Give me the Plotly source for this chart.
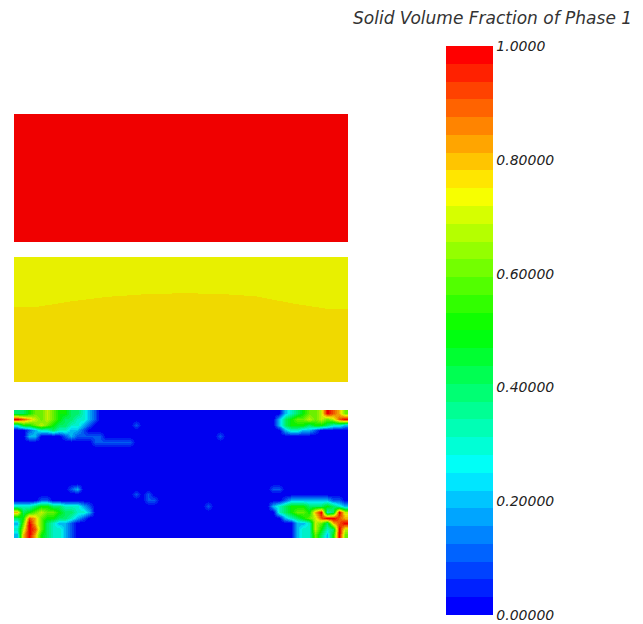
import plotly.graph_objects as go

W, H = 643, 624

# Legend
CBAR_TITLE = "Solid Volume Fraction of Phase 1"
TICK_VALUES = [0.0, 0.2, 0.4, 0.6, 0.8, 1.0]
TICK_LABELS = ["0.00000", "0.20000", "0.40000", "0.60000", "0.80000", "1.0000"]
N_BANDS = 32

# Top slab: essentially fully packed
TOP_FIELD = [
    [0.99, 0.99, 0.99, 0.99],
    [0.99, 0.99, 0.99, 0.99],
    [0.99, 0.99, 0.99, 0.99],
]

# Middle slab: 6 rows (top to bottom) x 9 columns (left to right)
MID_FIELD = [
    [0.7381, 0.7399, 0.7413, 0.7420, 0.7423, 0.7422, 0.7414, 0.7393, 0.7375],
    [0.7444, 0.7462, 0.7475, 0.7483, 0.7486, 0.7484, 0.7477, 0.7456, 0.7438],
    [0.7506, 0.7524, 0.7538, 0.7545, 0.7548, 0.7547, 0.7539, 0.7518, 0.7501],
    [0.7569, 0.7587, 0.7600, 0.7608, 0.7611, 0.7609, 0.7602, 0.7581, 0.7563],
    [0.7631, 0.7649, 0.7663, 0.7670, 0.7673, 0.7672, 0.7664, 0.7643, 0.7625],
    [0.7694, 0.7712, 0.7725, 0.7733, 0.7736, 0.7734, 0.7727, 0.7706, 0.7688],
]

# Code letters used in the bottom-slab map
LEVELS = {".": 0.0, "1": 0.1, "2": 0.2, "3": 0.3, "4": 0.4, "5": 0.5,
          "6": 0.6, "7": 0.7, "8": 0.8, "9": 0.9, "R": 1.0}

# Bottom slab: 22 rows x 56 columns
LOW_FIELD = [
    "44566765544321" "............................." "..2345667R986",
    "R9876765443321" "............................." ".24566767679R",
    "3556765443321." "......1......................" ".245554554332",
    "..1233433221.." "............................." "..233221.....",
    "..22....121111" "1...................1........" ".............",
    ".............1" "111111......................." ".............",
    ".............." "............................." ".............",
    ".............." "............................." ".............",
    ".............." "............................." ".............",
    ".............." "............................." ".............",
    ".............." "............................." ".............",
    ".............." "............................." ".............",
    ".............." "............................." ".............",
    ".........12..." "............................." "11...........",
    ".............." "......1.1...................." ".............",
    "....11........" "........11..................." "..1222222211.",
    "3334554433321." "..................1.........." "2345554445432",
    "8456766544332." "............................." ".3456658R34R7",
    "459865544321.." "............................." "..2345679RR98",
    "26R8643221...." "............................." "....22376489R",
    "37R9643321...." "............................." "....2337534R7",
    "28R8543321...." "............................." "....2336425R6",
]

# Pixel placement of the three slabs and the legend bar
SLAB_X = (14, 348)
SLABS_Y = [(114, 242), (257, 382), (410, 538)]
BAR_X, BAR_TOP, BAR_BOTTOM, BAR_W = 446, 46, 615, 47


def rainbow(v):
    anchors = [(0.0, (0, 0, 255)), (0.25, (0, 255, 255)), (0.5, (0, 255, 0)),
               (0.75, (255, 255, 0)), (1.0, (255, 0, 0))]
    for (v0, c0), (v1, c1) in zip(anchors[:-1], anchors[1:]):
        if v <= v1:
            t = (v - v0) / (v1 - v0)
            return tuple(a + (b - a) * t for a, b in zip(c0, c1))
    return anchors[-1][1]


def banded_scale(shade):
    # 32 flat bands, end bands pure blue / pure red
    scale = []
    for i in range(N_BANDS):
        r, g, b = (round(c * shade) for c in rainbow(i / (N_BANDS - 1)))
        col = f"rgb({r},{g},{b})"
        scale.append([i / N_BANDS, col])
        scale.append([(i + 1) / N_BANDS, col])
    return scale


def decode(rows):
    return [[LEVELS[ch] for ch in row] for row in rows]


slab_scale = banded_scale(0.94)
bar_scale = banded_scale(1.0)

fig = go.Figure()

fields = [TOP_FIELD, MID_FIELD, decode(LOW_FIELD)]
for k, (z, (y_top, y_bot)) in enumerate(zip(fields, SLABS_Y), start=1):
    nrow, ncol = len(z), len(z[0])
    sfx = "" if k == 1 else str(k)
    fig.add_trace(go.Heatmap(
        z=z, x=list(range(ncol)), y=list(range(nrow)),
        colorscale=slab_scale, zmin=0, zmax=1, zsmooth="best",
        showscale=False, hoverinfo="skip",
        xaxis="x" + sfx, yaxis="y" + sfx,
    ))
    ax = dict(visible=False, showgrid=False, zeroline=False, fixedrange=True)
    fig.update_layout(**{
        "xaxis" + sfx: dict(ax, domain=[SLAB_X[0] / W, SLAB_X[1] / W],
                            range=[-0.5, ncol - 0.5]),
        "yaxis" + sfx: dict(ax, domain=[1 - y_bot / H, 1 - y_top / H],
                            range=[nrow - 0.5, -0.5]),
    })

# Legend bar carried by an invisible marker trace
fig.add_trace(go.Scatter(
    x=[0, 0], y=[0, 0], mode="markers", xaxis="x3", yaxis="y3",
    hoverinfo="skip", showlegend=False,
    marker=dict(size=1, opacity=0, color=[0, 1], cmin=0, cmax=1,
                colorscale=bar_scale, showscale=True,
                colorbar=dict(
                    x=BAR_X / W, xanchor="left",
                    y=1 - BAR_TOP / H, yanchor="top",
                    len=BAR_BOTTOM - BAR_TOP, lenmode="pixels",
                    thickness=BAR_W, thicknessmode="pixels",
                    xpad=0, ypad=0, outlinewidth=0,
                    tickvals=TICK_VALUES, ticktext=TICK_LABELS,
                    ticks="", ticklen=0,
                    tickfont=dict(family="DejaVu Sans", size=14,
                                  color="#222222", style="italic"),
                )),
))

fig.add_annotation(
    text=CBAR_TITLE, xref="paper", yref="paper",
    x=634 / W, y=1 - 18 / H, xanchor="right", yanchor="middle",
    showarrow=False,
    font=dict(family="DejaVu Sans", size=17, color="#333333", style="italic"),
)

fig.update_layout(
    width=W, height=H, margin=dict(l=0, r=0, t=0, b=0),
    paper_bgcolor="white", plot_bgcolor="white", showlegend=False,
)

fig.write_html("out.html")
